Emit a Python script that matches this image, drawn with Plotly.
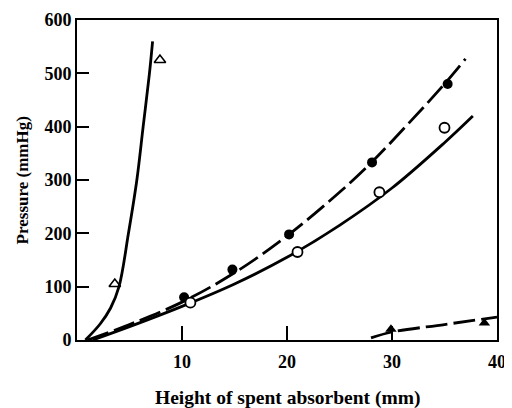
import plotly.graph_objects as go

# Data
open_tri_x = [3.6, 7.9]
open_tri_y = [105, 525]
steep_x = [0.8, 2.2, 3.2, 4.0, 4.9, 5.7, 6.3, 6.9, 7.2]
steep_y = [0, 30, 60, 100, 200, 300, 400, 500, 560]

filled_circ_x = [10.2, 14.8, 20.2, 28.1, 35.3]
filled_circ_y = [80, 132, 198, 333, 480]
filled_fit_x = [1.0, 5.0, 10.0, 15.0, 20.0, 25.0, 28.0, 32.0, 35.0, 37.0]
filled_fit_y = [0, 29, 71, 126, 195, 277, 332, 415, 480, 527]

open_circ_x = [10.8, 21.0, 28.8, 35.0]
open_circ_y = [70, 165, 277, 398]
open_fit_x = [1.5, 5.0, 10.0, 15.0, 20.0, 25.0, 30.0, 35.0, 37.7]
open_fit_y = [0, 25, 63, 105, 155, 215, 285, 370, 420]

filled_tri_x = [29.9, 38.8]
filled_tri_y = [20, 32]
filled_tri_fit_x = [28.0, 30.0, 35.0, 40.0]
filled_tri_fit_y = [4, 15, 29, 43]

x_ticks = [10, 20, 30, 40]
y_ticks = [0, 100, 200, 300, 400, 500, 600]

font_fam = "Liberation Serif"
fig = go.Figure()

fig.add_trace(go.Scatter(x=steep_x, y=steep_y, mode="lines", line=dict(color="black", width=2.8, shape="spline")))
fig.add_trace(go.Scatter(x=open_tri_x, y=open_tri_y, mode="markers",
                         marker=dict(symbol="triangle-up-open", size=10, color="black", line=dict(width=1.6))))

fig.add_trace(go.Scatter(x=filled_fit_x, y=filled_fit_y, mode="lines",
                         line=dict(color="black", width=2.8, shape="spline", dash="22px,6px")))
fig.add_trace(go.Scatter(x=filled_circ_x, y=filled_circ_y, mode="markers",
                         marker=dict(symbol="circle", size=10, color="black")))

fig.add_trace(go.Scatter(x=open_fit_x, y=open_fit_y, mode="lines",
                         line=dict(color="black", width=2.8, shape="spline")))
fig.add_trace(go.Scatter(x=open_circ_x, y=open_circ_y, mode="markers",
                         marker=dict(symbol="circle", size=10, color="white", line=dict(color="black", width=1.8))))

fig.add_trace(go.Scatter(x=filled_tri_fit_x, y=filled_tri_fit_y, mode="lines",
                         line=dict(color="black", width=2.8, shape="spline", dash="22px,6px")))
fig.add_trace(go.Scatter(x=filled_tri_x, y=filled_tri_y, mode="markers",
                         marker=dict(symbol="triangle-up", size=10, color="black")))

fig.update_layout(
    width=512, height=400,
    margin=dict(l=69, r=23, t=12, b=68),
    plot_bgcolor="white", paper_bgcolor="white",
    showlegend=False,
    font=dict(family=font_fam, color="black"),
    xaxis=dict(range=[0, 40], tickvals=x_ticks, ticktext=[f"<b>{v}</b>" for v in x_ticks],
               ticks="inside", ticklen=14, tickwidth=2, automargin=False,
               ticklabeloverflow="allow",
               tickcolor="black", showline=True, linecolor="black", linewidth=2, mirror=True,
               showgrid=False, zeroline=False, ticklabelstandoff=4,
               tickfont=dict(family=font_fam, size=18, color="black")),
    yaxis=dict(range=[0, 600], tickvals=y_ticks, ticktext=[f"<b>{v}</b>" for v in y_ticks],
               ticks="inside", ticklen=12, tickwidth=2, automargin=False,
               ticklabeloverflow="allow",
               tickcolor="black", showline=True, linecolor="black", linewidth=2, mirror=True,
               showgrid=False, zeroline=False,
               tickfont=dict(family=font_fam, size=18, color="black")),
    annotations=[
        dict(text="<b>Height of spent absorbent (mm)</b>", xref="paper", yref="paper",
             x=0.5, y=-0.18, yanchor="middle", xanchor="center", showarrow=False,
             font=dict(family=font_fam, size=19.5, color="black")),
        dict(text="<b>Pressure (mmHg)</b>", xref="paper", yref="paper",
             x=-0.13, y=0.5, xanchor="center", yanchor="middle", textangle=-90, showarrow=False,
             font=dict(family=font_fam, size=17, color="black")),
    ],
)

fig.write_html("out.html")
